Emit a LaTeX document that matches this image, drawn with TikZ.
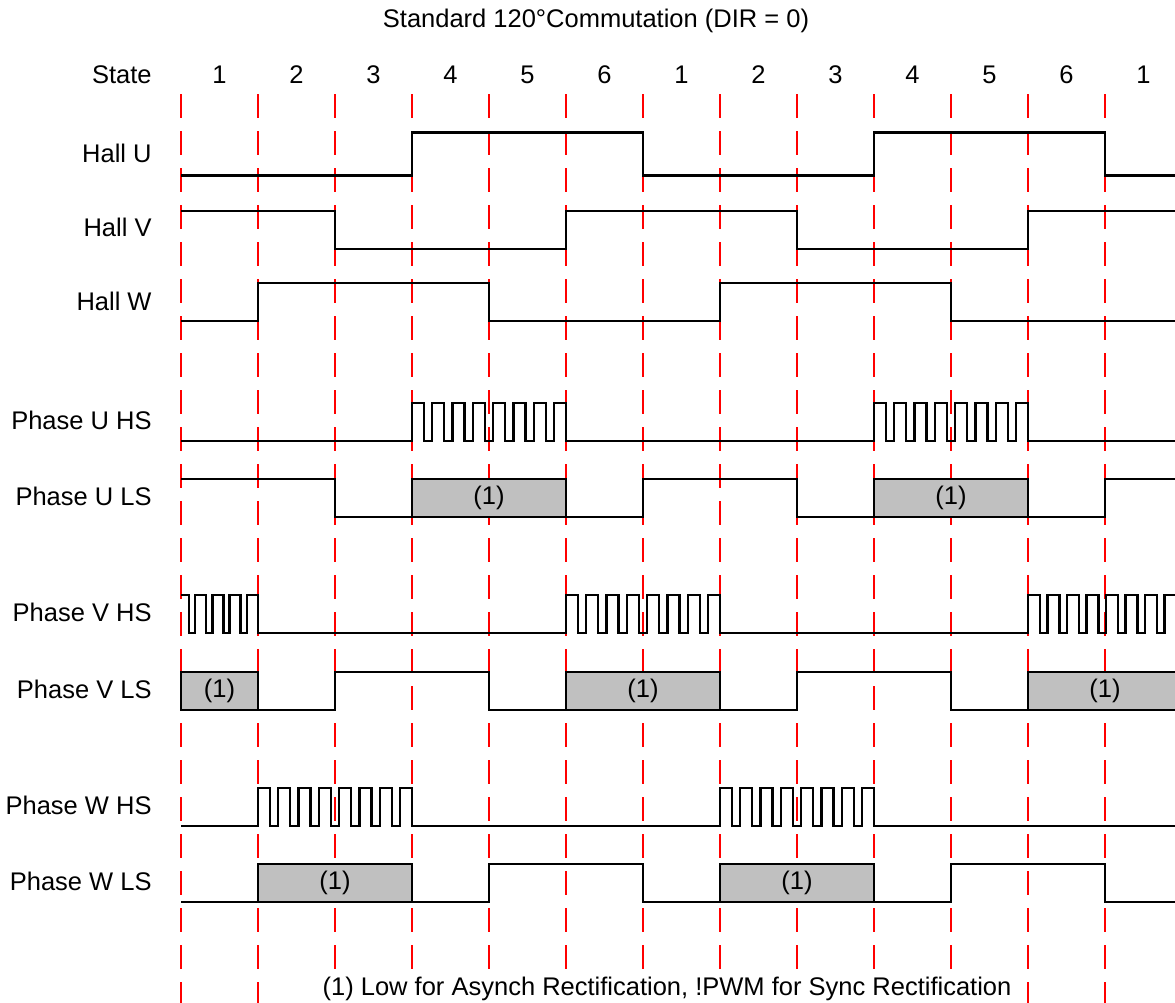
\documentclass[tikz,border=0pt]{standalone}
\usepackage{fontspec}
\setmainfont{Liberation Sans}
\definecolor{boxgray}{RGB}{192,192,192}
\tikzset{
    wave/.style={line width=1.2pt, line join=miter},
    stateline/.style={red, line width=0.65pt, dash pattern=on 12pt off 6.5pt},
    lsbox/.style={wave, fill=boxgray},
    siglabel/.style={anchor=east, inner sep=0pt},
}
\begin{document}
\begin{tikzpicture}[x=0.5pt,y=-0.5pt,font=\fontsize{12.75}{15}\selectfont]
\useasboundingbox (0,0) rectangle (1175,1003);
\clip (0,0) rectangle (1175,1003);

\node (title) at (596,21) {Standard 120°Commutation (DIR = 0)};
\node[siglabel] (state) at (152,75) {State};
\foreach \s [count=\i from 0] in {1,2,3,4,5,6,1,2,3,4,5,6,1}
    \node (s\i) at ({219.5+77*\i},75) {\s};

% state boundaries
\foreach \i in {0,...,12}
    \draw[stateline] ({181+77*\i},94) -- ({181+77*\i},1003);

% hall sensors
\begin{scope}[shift={(0,175.5)}]
\node[siglabel] (hallu) at (152,-22) {Hall U};
\draw[wave] (181,0) -- (412,0) -- (412,-43) -- (643,-43) -- (643,0) -- (874,0) -- (874,-43) -- (1105,-43) -- (1105,0) -- (1182,0);
\end{scope}

\begin{scope}[shift={(0,249)}]
\node[siglabel] (hallv) at (152,-22) {Hall V};
\draw[wave] (181,-38) -- (335,-38) -- (335,0) -- (566,0) -- (566,-38) -- (797,-38) -- (797,0) -- (1028,0) -- (1028,-38) -- (1182,-38);
\end{scope}

\begin{scope}[shift={(0,321)}]
\node[siglabel] (hallw) at (152,-20) {Hall W};
\draw[wave] (181,0) -- (258,0) -- (258,-38) -- (489,-38) -- (489,0) -- (720,0) -- (720,-38) -- (951,-38) -- (951,0) -- (1182,0);
\end{scope}

% phase U
\begin{scope}[shift={(0,441)}]
\node[siglabel] (uhs) at (152,-21) {Phase U HS};
\draw[wave] (181,0) -- (412,0)
    foreach \k in {0,...,7}{ -- ({412+20.29*\k},0) -- ++(0,-38) -- ++(12,0) -- ++(0,38) }
    -- (874,0)
    foreach \k in {0,...,7}{ -- ({874+20.29*\k},0) -- ++(0,-38) -- ++(12,0) -- ++(0,38) }
    -- (1182,0);
\end{scope}

\begin{scope}[shift={(0,517)}]
\node[siglabel] (uls) at (152,-21) {Phase U LS};
\draw[wave] (181,-38) -- (335,-38) -- (335,0) -- (643,0) -- (643,-38) -- (797,-38) -- (797,0) -- (1105,0) -- (1105,-38) -- (1182,-38);
\draw[lsbox] (412,0) rectangle (566,-38);
\node (ulsa) at (489,-19) {(1)};
\draw[lsbox] (874,0) rectangle (1028,-38);
\node (ulsb) at (951,-19) {(1)};
\end{scope}

% phase V
\begin{scope}[shift={(0,633)}]
\node[siglabel] (vhs) at (152,-21) {Phase V HS};
\draw[wave] (181,-38) -- (189,-38) -- (189,0)
    foreach \k in {0,...,3}{ -- ({195+17.33*\k},0) -- ++(0,-38) -- ++(11,0) -- ++(0,38) }
    -- (566,0)
    foreach \k in {0,...,7}{ -- ({566+20.29*\k},0) -- ++(0,-38) -- ++(12,0) -- ++(0,38) }
    -- (1028,0)
    foreach \k in {0,...,8}{ -- ({1028+19.5*\k},0) -- ++(0,-38) -- ++(12,0) -- ++(0,38) };
\end{scope}

\begin{scope}[shift={(0,710)}]
\node[siglabel] (vls) at (152,-21) {Phase V LS};
\draw[wave] (181,0) -- (335,0) -- (335,-38) -- (489,-38) -- (489,0) -- (797,0) -- (797,-38) -- (951,-38) -- (951,0) -- (1182,0);
\draw[lsbox] (181,0) rectangle (258,-38);
\node (vlsa) at (219.5,-19) {(1)};
\draw[lsbox] (566,0) rectangle (720,-38);
\node (vlsb) at (643,-19) {(1)};
\draw[lsbox] (1028,0) rectangle (1182,-38);
\node (vlsc) at (1105,-19) {(1)};
\end{scope}

% phase W
\begin{scope}[shift={(0,826)}]
\node[siglabel] (whs) at (152,-21) {Phase W HS};
\draw[wave] (181,0) -- (258,0)
    foreach \k in {0,...,7}{ -- ({258+20.29*\k},0) -- ++(0,-38) -- ++(12,0) -- ++(0,38) }
    -- (720,0)
    foreach \k in {0,...,7}{ -- ({720+20.29*\k},0) -- ++(0,-38) -- ++(12,0) -- ++(0,38) }
    -- (1182,0);
\end{scope}

\begin{scope}[shift={(0,902)}]
\node[siglabel] (wls) at (152,-21) {Phase W LS};
\draw[wave] (181,0) -- (489,0) -- (489,-38) -- (643,-38) -- (643,0) -- (951,0) -- (951,-38) -- (1105,-38) -- (1105,0) -- (1182,0);
\draw[lsbox] (258,0) rectangle (412,-38);
\node (wlsa) at (335,-19) {(1)};
\draw[lsbox] (720,0) rectangle (874,-38);
\node (wlsb) at (797,-19) {(1)};
\end{scope}

\node[fill=white] (note) at (667,989) {(1) Low for Asynch Rectification, !PWM for Sync Rectification};
\end{tikzpicture}
\end{document}
